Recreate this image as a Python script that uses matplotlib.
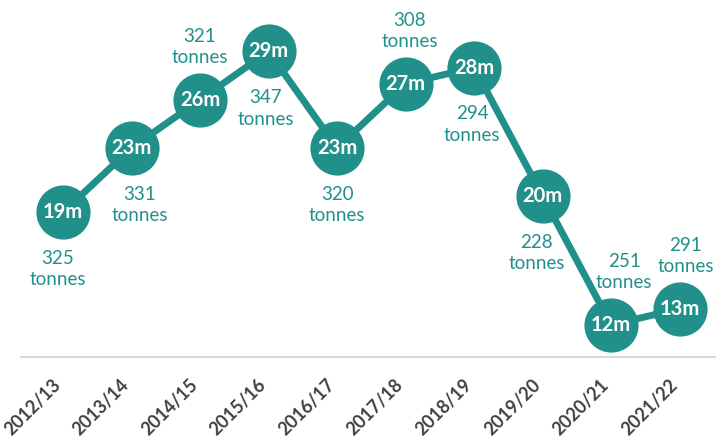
import matplotlib
matplotlib.use("Agg")
import matplotlib.pyplot as plt
from matplotlib.transforms import ScaledTranslation

# data
years = ["2012/13", "2013/14", "2014/15", "2015/16", "2016/17",
         "2017/18", "2018/19", "2019/20", "2020/21", "2021/22"]
millions = [19, 23, 26, 29, 23, 27, 28, 20, 12, 13]
tonnes = [325, 331, 321, 347, 320, 308, 294, 228, 251, 291]
label_side = ["below", "below", "above", "below", "below",
              "above", "below", "below", "above", "above"]
label_dx = [-5, 8, 0, -3, 0, 4, -2, -6, 13, 6]   # small nudges, px

teal = "#21908A"
plt.rcParams["font.family"] = ["Lato", "DejaVu Sans"]

fig = plt.figure(figsize=(7.16, 4.46), dpi=100)
ax = fig.add_axes([21 / 716, 89 / 446, 695 / 716, 357 / 446])

x = range(len(years))
ax.plot(x, millions, color=teal, lw=5, marker="o", ms=38,
        markerfacecolor=teal, markeredgecolor=teal, zorder=2)

for i, (m, t) in enumerate(zip(millions, tonnes)):
    ax.text(i, m, f"{m}m", color="white", fontsize=14.5, fontweight="bold",
            ha="center", va="center", zorder=3)
    dy = -57 if label_side[i] == "below" else 53
    ax.annotate(f"{t}\ntonnes", (i, m), xytext=(label_dx[i] * 0.72, dy * 0.72),
                textcoords="offset points", ha="center", va="center",
                color=teal, fontsize=13.5, linespacing=1.3)

ax.set_xlim(-0.613, 9.53)
ax.set_ylim(10.0, 32.2)
ax.set_xticks(list(x))
ax.set_xticklabels(years, rotation=45, ha="right", rotation_mode="anchor",
                   fontsize=13, fontweight="bold", color="#404040")
ax.tick_params(axis="x", length=0, pad=14)
ax.set_yticks([])
for lab in ax.get_xticklabels():
    lab.set_transform(lab.get_transform() + ScaledTranslation(-0.11, 0, fig.dpi_scale_trans))

for s in ["top", "right", "left"]:
    ax.spines[s].set_visible(False)
ax.spines["bottom"].set_color("#d9d9d9")
ax.spines["bottom"].set_linewidth(1.5)

fig.savefig("out.png", dpi=100)
